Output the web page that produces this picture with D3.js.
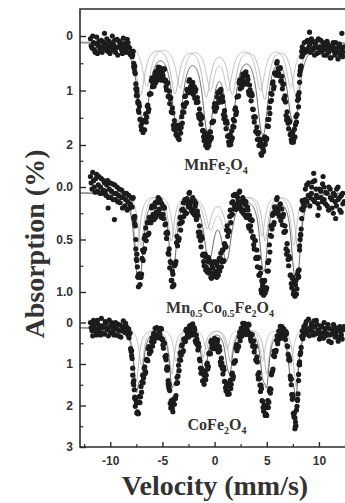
<!DOCTYPE html>
<html>
<head>
<meta charset="utf-8">
<script src="https://cdn.jsdelivr.net/npm/d3@7"></script>
<style>
  html, body { margin: 0; padding: 0; background: #fff; }
  svg { display: block; }
</style>
</head>
<body>
<div id="chart"></div>
<script>
// velocity axis
const velTicks = [-10, -5, 0, 5, 10];
const velMinor = [-12.5, -7.5, -2.5, 2.5, 7.5, 12.5];

// sample names (parts: [text, isSubscript])
const mnName = [["MnFe", false], ["2", true], ["O", false], ["4", true]];
const mcName = [["Mn", false], ["0.5", true], ["Co", false], ["0.5", true], ["Fe", false], ["2", true], ["O", false], ["4", true]];
const coName = [["CoFe", false], ["2", true], ["O", false], ["4", true]];

// y ticks of each panel
const mnTicks = [0, 1, 2], mnMinor = [0.5, 1.5];
const mcTicks = [0, 0.5, 1.0], mcMinor = [-0.25, 0.25, 0.75];
const coTicks = [0, 1, 2, 3], coMinor = [0.5, 1.5, 2.5];

// measured points [velocity, absorption %]
const mnPts = [
  [-11.9,0.05],[-11.75,0.22],[-11.6,0.12],[-11.45,0.3],[-11.3,0.02],[-11.15,0.18],[-11.0,0.25],[-10.85,0.08],[-10.7,0.2],[-10.55,-0.05],[-10.4,0.15],[-10.25,0.28],[-10.1,0.1],[-9.95,0.22],[-9.8,0.0],[-9.65,0.17],[-9.5,0.3],[-9.35,0.06],[-9.2,0.2],[-9.05,0.12],[-8.9,0.26],[-8.75,0.04],[-8.6,0.18],[-8.45,0.3],[-8.3,0.12],[-8.15,0.22],[-8.0,0.28],
  [-7.85,0.35],[-7.75,0.5],[-7.65,0.66],[-7.55,0.88],[-7.45,1.02],[-7.35,1.2],[-7.25,1.4],
  [-7.9,0.38],[-7.8,0.28],[-7.7,0.59],[-7.6,0.69],[-7.5,1.09],[-7.4,1.10],[-7.3,1.36],[-7.2,1.29],[-7.1,1.53],[-7.0,1.72],[-6.9,1.56],[-6.8,1.72],
  [-6.7,1.72],[-6.6,1.43],[-6.5,1.49],[-6.4,1.27],[-6.3,1.34],[-6.2,1.06],[-6.1,1.06],[-6.0,0.77],[-5.9,0.85],[-5.8,0.92],[-5.7,0.67],[-5.6,0.79],
  [-5.5,0.81],[-5.4,0.57],[-5.3,0.72],[-5.2,0.61],[-5.1,0.81],[-5.0,0.66],[-4.9,0.78],[-4.8,0.61],[-4.7,0.81],[-4.6,0.99],[-4.5,0.86],[-4.4,1.10],
  [-4.3,1.24],[-4.2,1.13],[-4.1,1.40],[-4.0,1.41],[-3.9,1.71],[-3.8,1.64],[-3.7,1.81],[-3.6,1.65],[-3.5,1.81],[-3.4,1.90],[-3.3,1.63],[-3.2,1.68],
  [-3.1,1.60],[-3.0,1.26],[-2.9,1.30],[-2.8,1.10],[-2.7,1.22],[-2.6,0.99],[-2.5,1.04],[-2.4,0.80],[-2.3,0.93],[-2.2,1.04],[-2.1,0.85],[-2.0,1.04],
  [-1.9,1.14],[-1.8,0.98],[-1.7,1.22],[-1.6,1.21],[-1.5,1.50],[-1.4,1.43],[-1.3,1.62],[-1.2,1.50],[-1.1,1.73],[-1.0,1.92],[-0.9,1.78],[-0.8,1.98],
  [-0.7,2.05],[-0.6,1.83],[-0.5,1.94],[-0.4,1.76],[-0.3,1.86],[-0.2,1.58],[-0.1,1.56],[0.0,1.24],[0.1,1.28],[0.2,1.31],[0.3,1.04],[0.4,1.15],
  [0.5,1.18],[0.6,0.98],[0.7,1.20],[0.8,1.20],[0.9,1.52],[1.0,1.48],[1.1,1.70],[1.2,1.60],[1.3,1.83],[1.4,2.00],[1.5,1.81],[1.6,1.92],
  [1.7,1.87],[1.8,1.53],[1.9,1.56],[2.0,1.32],[2.1,1.39],[2.2,1.11],[2.3,1.10],[2.4,0.81],[2.5,0.88],[2.6,0.94],[2.7,0.70],[2.8,0.83],
  [2.9,0.87],[3.0,0.66],[3.1,0.85],[3.2,0.80],[3.3,1.07],[3.4,0.99],[3.5,1.19],[3.6,1.09],[3.7,1.35],[3.8,1.58],[3.9,1.49],[4.0,1.76],
  [4.1,1.90],[4.2,1.77],[4.3,2.00],[4.4,1.96],[4.5,2.19],[4.6,2.04],[4.7,2.12],[4.8,1.85],[4.9,1.89],[5.0,1.88],[5.1,1.53],[5.2,1.53],
  [5.3,1.42],[5.4,1.05],[5.5,1.07],[5.6,0.84],[5.7,0.93],[5.8,0.68],[5.9,0.72],[6.0,0.47],[6.1,0.60],[6.2,0.73],[6.3,0.58],[6.4,0.82],
  [6.5,0.97],[6.6,0.88],[6.7,1.17],[6.8,1.21],[6.9,1.54],[7.0,1.50],[7.1,1.70],[7.2,1.58],[7.3,1.79],[7.4,1.95],[7.5,1.76],[7.6,1.89],
  [7.7,1.85],[7.8,1.48],[7.9,1.44],[8.0,1.09],[8.1,1.04],[8.2,0.64],[8.3,0.55],[8.4,0.20],[8.5,0.25],
  [8.05,1.3],[8.15,0.85],[8.25,0.55],[8.35,0.38],[8.45,0.3],
  [8.6,0.12],[8.75,0.25],[8.9,0.08],[9.05,0.2],[9.2,0.3],[9.35,0.1],[9.5,0.22],[9.65,0.15],[9.8,0.32],[9.95,0.05],[10.1,0.2],[10.25,0.28],[10.4,0.12],
  [10.55,0.25],[10.7,0.35],[10.85,0.15],[11.0,0.22],[11.15,0.4],[11.3,0.18],[11.45,0.28],[11.6,0.12],[11.75,0.3],[11.9,0.2],[12.05,0.35],[12.2,0.22],[12.35,0.3],
  [9.1,-0.07],[12.2,-0.05]
];
const mnPts2 = [
  [-11.83,0.18],[-11.68,0.0],[-11.53,0.25],[-11.38,0.14],[-11.23,0.32],[-11.08,0.1],[-10.93,0.2],[-10.78,0.3],[-10.63,0.12],[-10.48,0.24],[-10.33,0.05],[-10.18,0.2],[-10.03,0.32],
  [-9.88,0.14],[-9.73,0.26],[-9.58,0.08],[-9.43,0.22],[-9.28,0.35],[-9.13,0.1],[-8.98,0.2],[-8.83,0.32],[-8.68,0.14],[-8.53,0.25],[-8.38,0.06],[-8.23,0.2],[-8.08,0.34],
  [-7.85,0.29],[-7.75,0.56],[-7.65,0.55],[-7.55,0.97],[-7.45,0.97],[-7.35,1.23],[-7.25,1.23],[-7.15,1.53],[-7.05,1.65],[-6.95,1.59],[-6.85,1.77],[-6.75,1.56],
  [-6.65,1.54],[-6.55,1.58],[-6.45,1.29],[-6.35,1.39],[-6.25,1.07],[-6.15,1.06],[-6.05,0.82],[-5.95,0.93],[-5.85,0.91],[-5.75,0.74],[-5.65,0.86],[-5.55,0.64],
  [-5.45,0.65],[-5.35,0.77],[-5.25,0.58],[-5.15,0.79],[-5.05,0.61],[-4.95,0.72],[-4.85,0.60],[-4.75,0.83],[-4.65,0.93],[-4.55,0.87],[-4.45,1.11],[-4.35,1.01],
  [-4.25,1.15],[-4.15,1.39],[-4.05,1.32],[-3.95,1.64],[-3.85,1.55],[-3.75,1.73],[-3.65,1.64],[-3.55,1.85],[-3.45,1.88],[-3.35,1.71],[-3.25,1.78],[-3.15,1.48],
  [-3.05,1.39],[-2.95,1.40],[-2.85,1.11],[-2.75,1.24],[-2.65,0.98],[-2.55,1.02],[-2.45,0.83],[-2.35,0.99],[-2.25,1.01],[-2.15,0.89],[-2.05,1.07],[-1.95,0.93],
  [-1.85,1.02],[-1.75,1.22],[-1.65,1.13],[-1.55,1.44],[-1.45,1.34],[-1.35,1.53],[-1.25,1.47],[-1.15,1.74],[-1.05,1.85],[-0.95,1.80],[-0.85,2.01],[-0.75,1.86],
  [-0.65,1.90],[-0.55,2.01],[-0.45,1.76],[-0.35,1.89],[-0.25,1.59],[-0.15,1.57],[-0.05,1.31],[0.05,1.38],[0.15,1.32],[0.25,1.12],[0.35,1.22],[0.45,1.01],
  [0.55,1.04],[0.65,1.21],[0.75,1.11],[0.85,1.44],[0.95,1.37],[1.05,1.59],[1.15,1.56],[1.25,1.84],[1.35,1.94],[1.45,1.85],[1.55,1.99],[1.65,1.74],
  [1.75,1.66],[1.85,1.67],[1.95,1.35],[2.05,1.44],[2.15,1.12],[2.25,1.11],[2.35,0.86],[2.45,0.97],[2.55,0.94],[2.65,0.77],[2.75,0.89],[2.85,0.69],
  [2.95,0.73],[3.05,0.88],[3.15,0.74],[3.25,1.02],[3.35,0.90],[3.45,1.09],[3.55,1.05],[3.65,1.34],[3.75,1.49],[3.85,1.48],[3.95,1.75],[4.05,1.67],
  [4.15,1.80],[4.25,2.01],[4.35,1.89],[4.45,2.16],[4.55,1.99],[4.65,2.08],[4.75,1.89],[4.85,1.99],[4.95,1.91],[5.05,1.65],[5.15,1.66],[5.25,1.32],
  [5.35,1.20],[5.45,1.18],[5.55,0.87],[5.65,0.97],[5.75,0.68],[5.85,0.70],[5.95,0.50],[6.05,0.66],[6.15,0.69],[6.25,0.60],[6.35,0.83],[6.45,0.74],
  [6.55,0.89],[6.65,1.15],[6.75,1.10],[6.85,1.46],[6.95,1.39],[7.05,1.60],[7.15,1.55],[7.25,1.81],[7.35,1.90],[7.45,1.80],[7.55,1.95],[7.65,1.71],
  [7.75,1.63],[7.85,1.58],[7.95,1.18],[8.05,1.15],[8.15,0.71],[8.25,0.60],[8.35,0.28],[8.45,0.35],
  [8.68,0.3],[8.83,0.1],[8.98,0.28],[9.13,0.15],[9.28,0.05],[9.43,0.25],[9.58,0.35],[9.73,0.1],[9.88,0.22],[10.03,0.3],[10.18,0.08],[10.33,0.2],[10.48,0.35],
  [10.63,0.18],[10.78,0.1],[10.93,0.3],[11.08,0.4],[11.23,0.25],[11.38,0.12],[11.53,0.35],[11.68,0.22],[11.83,0.42],[11.98,0.15],[12.13,0.28],[12.28,0.38],[12.43,0.2]
];

const mcPts = [
  [-11.9,-0.1],[-11.75,0.02],[-11.6,-0.06],[-11.45,0.05],[-11.3,-0.12],[-11.15,-0.02],[-11.0,0.06],[-10.85,-0.08],[-10.7,0.03],[-10.55,-0.04],[-10.4,0.08],[-10.25,-0.06],[-10.1,0.02],
  [-9.95,0.1],[-9.8,-0.03],[-9.65,0.06],[-9.5,0.12],[-9.35,0.0],[-9.2,0.08],[-9.05,0.15],[-8.9,0.03],[-8.75,0.1],[-8.6,0.18],[-8.45,0.06],[-8.3,0.14],[-8.15,0.2],[-8.0,0.1],
  [-10.2,0.2],[-9.6,0.31],
  [-7.65,0.35],[-7.55,0.5],[-7.45,0.7],[-7.35,0.85],
  [-7.9,0.19],[-7.8,0.10],[-7.7,0.31],[-7.6,0.37],[-7.5,0.69],[-7.4,0.76],[-7.3,0.95],[-7.2,0.83],[-7.1,0.86],[-7.0,0.83],[-6.9,0.60],[-6.8,0.62],
  [-6.7,0.59],[-6.6,0.39],[-6.5,0.46],[-6.4,0.34],[-6.3,0.44],[-6.2,0.30],[-6.1,0.34],[-6.0,0.18],[-5.9,0.26],[-5.8,0.31],[-5.7,0.15],[-5.6,0.24],
  [-5.5,0.26],[-5.4,0.10],[-5.3,0.21],[-5.2,0.14],[-5.1,0.29],[-5.0,0.20],[-4.9,0.30],[-4.8,0.20],[-4.7,0.35],[-4.6,0.49],[-4.5,0.44],[-4.4,0.64],
  [-4.3,0.77],[-4.2,0.72],[-4.1,0.89],[-4.0,0.83],[-3.9,0.93],[-3.8,0.74],[-3.7,0.71],[-3.6,0.47],[-3.5,0.49],[-3.4,0.49],[-3.3,0.29],[-3.2,0.34],
  [-3.1,0.33],[-3.0,0.15],[-2.9,0.23],[-2.8,0.13],[-2.7,0.25],[-2.6,0.13],[-2.5,0.19],[-2.4,0.05],[-2.3,0.15],[-2.2,0.23],[-2.1,0.10],[-2.0,0.22],
  [-1.9,0.27],[-1.8,0.15],[-1.7,0.30],[-1.6,0.27],[-1.5,0.47],[-1.4,0.43],[-1.3,0.57],[-1.2,0.49],[-1.1,0.64],[-1.0,0.75],[-0.9,0.64],[-0.8,0.76],
  [-0.7,0.81],[-0.6,0.67],[-0.5,0.79],[-0.4,0.72],[-0.3,0.87],[-0.2,0.77],[-0.1,0.85],[0.0,0.71],[0.1,0.80],[0.2,0.86],[0.3,0.71],[0.4,0.79],
  [0.5,0.80],[0.6,0.63],[0.7,0.71],[0.8,0.60],[0.9,0.70],[1.0,0.55],[1.1,0.57],[1.2,0.37],[1.3,0.41],[1.4,0.42],[1.5,0.22],[1.6,0.27],
  [1.7,0.26],[1.8,0.08],[1.9,0.17],[2.0,0.08],[2.1,0.21],[2.2,0.10],[2.3,0.17],[2.4,0.04],[2.5,0.15],[2.6,0.23],[2.7,0.10],[2.8,0.22],
  [2.9,0.27],[3.0,0.14],[3.1,0.27],[3.2,0.22],[3.3,0.39],[3.4,0.31],[3.5,0.42],[3.6,0.32],[3.7,0.47],[3.8,0.59],[3.9,0.51],[4.0,0.67],
  [4.1,0.76],[4.2,0.67],[4.3,0.84],[4.4,0.82],[4.5,1.01],[4.6,0.94],[4.7,1.03],[4.8,0.89],[4.9,0.96],[5.0,0.96],[5.1,0.72],[5.2,0.70],
  [5.3,0.62],[5.4,0.37],[5.5,0.40],[5.6,0.25],[5.7,0.34],[5.8,0.20],[5.9,0.25],[6.0,0.10],[6.1,0.20],[6.2,0.28],[6.3,0.16],[6.4,0.29],
  [6.5,0.36],[6.6,0.26],[6.7,0.43],[6.8,0.42],[6.9,0.64],[7.0,0.61],[7.1,0.75],[7.2,0.68],[7.3,0.84],[7.4,0.96],[7.5,0.86],[7.6,0.99],
  [7.7,1.04],[7.8,0.89],[7.9,0.97],[8.0,0.80],[8.1,0.79],[8.2,0.50],[8.3,0.40],[8.4,0.13],[8.5,0.15],[8.6,0.18],
  [8.05,0.85],[8.15,0.6],[8.25,0.45],[8.35,0.3],[4.55,0.9],[-4.05,0.95],
  [8.7,0.02],[8.85,0.14],[9.0,-0.04],[9.15,0.1],[9.3,0.0],[9.45,0.12],[9.6,-0.06],[9.75,0.08],[9.9,0.16],[10.05,0.02],[10.2,0.1],[10.35,-0.03],[10.5,0.12],
  [10.65,0.05],[10.8,0.18],[10.95,0.0],[11.1,0.1],[11.25,0.2],[11.4,0.06],[11.55,0.14],[11.7,0.02],[11.85,0.12],[12.0,0.22],[12.15,0.08],[12.3,0.16],
  [9.5,-0.13],[9.9,0.27],[11.6,0.3],[10.4,-0.1]
];
const mcPts2 = [
  [-11.83,-0.04],[-11.68,-0.14],[-11.53,0.0],[-11.38,-0.08],[-11.23,0.04],[-11.08,-0.1],[-10.93,0.0],[-10.78,0.06],[-10.63,-0.06],[-10.48,0.04],[-10.33,-0.02],[-10.18,0.1],[-10.03,-0.04],
  [-9.88,0.04],[-9.73,0.12],[-9.58,-0.02],[-9.43,0.06],[-9.28,0.14],[-9.13,0.02],[-8.98,0.1],[-8.83,0.2],[-8.68,0.06],[-8.53,0.12],[-8.38,0.22],[-8.23,0.08],[-8.08,0.16],
  [-7.85,0.11],[-7.75,0.29],[-7.65,0.28],[-7.55,0.59],[-7.45,0.64],[-7.35,0.86],[-7.25,0.83],[-7.15,0.93],[-7.05,0.86],[-6.95,0.68],[-6.85,0.70],[-6.75,0.49],
  [-6.65,0.46],[-6.55,0.51],[-6.45,0.34],[-6.35,0.45],[-6.25,0.29],[-6.15,0.33],[-6.05,0.20],[-5.95,0.30],[-5.85,0.30],[-5.75,0.19],[-5.65,0.29],[-5.55,0.14],
  [-5.45,0.15],[-5.35,0.24],[-5.25,0.12],[-5.15,0.28],[-5.05,0.16],[-4.95,0.26],[-4.85,0.19],[-4.75,0.36],[-4.65,0.44],[-4.55,0.43],[-4.45,0.63],[-4.35,0.59],
  [-4.25,0.71],[-4.15,0.89],[-4.05,0.80],[-3.95,0.94],[-3.85,0.75],[-3.75,0.73],[-3.65,0.53],[-3.55,0.56],[-3.45,0.51],[-3.35,0.35],[-3.25,0.41],[-3.15,0.22],
  [-3.05,0.21],[-2.95,0.28],[-2.85,0.12],[-2.75,0.25],[-2.65,0.11],[-2.55,0.17],[-2.45,0.06],[-2.35,0.18],[-2.25,0.21],[-2.15,0.13],[-2.05,0.25],[-1.95,0.13],
  [-1.85,0.18],[-1.75,0.31],[-1.65,0.23],[-1.55,0.43],[-1.45,0.37],[-1.35,0.51],[-1.25,0.47],[-1.15,0.65],[-1.05,0.71],[-0.95,0.66],[-0.85,0.79],[-0.75,0.67],
  [-0.65,0.71],[-0.55,0.82],[-0.45,0.70],[-0.35,0.86],[-0.25,0.74],[-0.15,0.82],[-0.05,0.72],[0.05,0.84],[0.15,0.85],[0.25,0.75],[0.35,0.84],[0.45,0.68],
  [0.55,0.68],[0.65,0.76],[0.75,0.60],[0.85,0.71],[0.95,0.54],[1.05,0.57],[1.15,0.41],[1.25,0.47],[1.35,0.43],[1.45,0.28],[1.55,0.34],[1.65,0.15],
  [1.75,0.14],[1.85,0.21],[1.95,0.07],[2.05,0.21],[2.15,0.07],[2.25,0.14],[2.35,0.05],[2.45,0.18],[2.55,0.21],[2.65,0.13],[2.75,0.25],[2.85,0.13],
  [2.95,0.17],[3.05,0.29],[3.15,0.19],[3.25,0.37],[3.35,0.27],[3.45,0.37],[3.55,0.31],[3.65,0.48],[3.75,0.55],[3.85,0.51],[3.95,0.68],[4.05,0.60],
  [4.15,0.68],[4.25,0.84],[4.35,0.77],[4.45,0.98],[4.55,0.89],[4.65,0.99],[4.75,0.90],[4.85,1.01],[4.95,0.98],[5.05,0.80],[5.15,0.80],[5.25,0.55],
  [5.35,0.46],[5.45,0.47],[5.55,0.27],[5.65,0.36],[5.75,0.19],[5.85,0.23],[5.95,0.12],[6.05,0.23],[6.15,0.26],[6.25,0.18],[6.35,0.32],[6.45,0.21],
  [6.55,0.28],[6.65,0.43],[6.75,0.37],[6.85,0.59],[6.95,0.54],[7.05,0.69],[7.15,0.66],[7.25,0.84],[7.35,0.92],[7.45,0.87],[7.55,1.02],[7.65,0.90],
  [7.75,0.93],[7.85,1.02],[7.95,0.83],[8.05,0.86],[8.15,0.56],[8.25,0.46],[8.35,0.21],[8.45,0.22],[8.55,0.18],
  [8.68,0.12],[8.83,-0.02],[8.98,0.08],[9.13,0.18],[9.28,0.06],[9.43,-0.05],[9.58,0.14],[9.73,0.02],[9.88,0.1],[10.03,0.2],[10.18,0.04],[10.33,0.14],[10.48,0.0],
  [10.63,0.16],[10.78,0.06],[10.93,0.22],[11.08,0.02],[11.23,0.12],[11.38,0.25],[11.53,0.08],[11.68,0.18],[11.83,0.0],[11.98,0.1],[12.13,0.24],[12.28,0.06],[12.43,0.14]
];

const coPts = [
  [-11.9,0.0],[-11.75,0.2],[-11.6,-0.05],[-11.45,0.15],[-11.3,0.3],[-11.15,0.05],[-11.0,0.22],[-10.85,-0.1],[-10.7,0.12],[-10.55,0.28],[-10.4,0.02],[-10.25,0.18],[-10.1,-0.06],
  [-9.95,0.25],[-9.8,0.08],[-9.65,0.3],[-9.5,0.0],[-9.35,0.16],[-9.2,0.32],[-9.05,0.06],[-8.9,0.2],[-8.75,-0.04],[-8.6,0.24],[-8.45,0.1],[-8.3,0.3],
  [-8.2,0.37],[-8.1,0.25],[-8.0,0.70],[-7.9,0.87],[-7.8,1.46],[-7.7,1.62],[-7.6,2.02],[-7.5,1.94],[-7.4,2.15],[-7.3,2.19],[-7.2,1.78],[-7.1,1.79],
  [-7.0,1.68],[-6.9,1.27],[-6.8,1.33],[-6.7,1.07],[-6.6,1.19],[-6.5,0.89],[-6.4,0.92],[-6.3,0.58],[-6.2,0.65],[-6.1,0.69],[-6.0,0.37],[-5.9,0.47],
  [-5.8,0.46],[-5.7,0.14],[-5.6,0.30],[-5.5,0.14],[-5.4,0.37],[-5.3,0.19],[-5.2,0.35],[-5.1,0.16],[-5.0,0.40],[-4.9,0.62],[-4.8,0.50],[-4.7,0.85],
  [-4.6,1.12],[-4.5,1.10],[-4.4,1.55],[-4.3,1.64],[-4.2,2.06],[-4.1,1.98],[-4.0,2.15],[-3.9,1.84],[-3.8,1.84],[-3.7,1.76],[-3.6,1.32],[-3.5,1.29],
  [-3.4,1.16],[-3.3,0.73],[-3.2,0.79],[-3.1,0.54],[-3.0,0.68],[-2.9,0.40],[-2.8,0.46],[-2.7,0.16],[-2.6,0.27],[-2.5,0.35],[-2.4,0.08],[-2.3,0.24],
  [-2.2,0.29],[-2.1,0.03],[-2.0,0.26],[-1.9,0.18],[-1.8,0.49],[-1.7,0.40],[-1.6,0.66],[-1.5,0.58],[-1.4,0.92],[-1.3,1.22],[-1.2,1.13],[-1.1,1.40],
  [-1.0,1.49],[-0.9,1.18],[-0.8,1.27],[-0.7,0.98],[-0.6,1.06],[-0.5,0.73],[-0.4,0.75],[-0.3,0.43],[-0.2,0.54],[-0.1,0.63],[0.0,0.38],[0.1,0.56],
  [0.2,0.64],[0.3,0.42],[0.4,0.70],[0.5,0.67],[0.6,1.03],[0.7,0.97],[0.8,1.24],[0.9,1.14],[1.0,1.43],[1.1,1.65],[1.2,1.48],[1.3,1.68],
  [1.4,1.72],[1.5,1.39],[1.6,1.49],[1.7,1.22],[1.8,1.30],[1.9,0.95],[2.0,0.92],[2.1,0.53],[2.2,0.56],[2.3,0.57],[2.4,0.24],[2.5,0.34],
  [2.6,0.33],[2.7,0.02],[2.8,0.19],[2.9,0.05],[3.0,0.29],[3.1,0.11],[3.2,0.26],[3.3,0.06],[3.4,0.27],[3.5,0.45],[3.6,0.29],[3.7,0.55],
  [3.8,0.71],[3.9,0.57],[4.0,0.92],[4.1,0.95],[4.2,1.36],[4.3,1.35],[4.4,1.66],[4.5,1.59],[4.6,1.90],[4.7,2.14],[4.8,1.99],[4.9,2.20],
  [5.0,2.24],[5.1,1.88],[5.2,1.92],[5.3,1.59],[5.4,1.61],[5.5,1.20],[5.6,1.12],[5.7,0.69],[5.8,0.69],[5.9,0.67],[6.0,0.32],[6.1,0.41],
  [6.2,0.40],[6.3,0.09],[6.4,0.27],[6.5,0.13],[6.6,0.38],[6.7,0.22],[6.8,0.41],[6.9,0.27],[7.0,0.58],[7.1,0.90],[7.2,0.91],[7.3,1.37],
  [7.4,1.74],[7.5,1.80],[7.6,2.27],[7.7,2.30],[7.8,2.49],[7.9,2.02],[8.0,1.72],[8.1,1.01],[8.2,0.77],[8.3,0.60],[8.4,0.20],[8.5,0.29],[8.6,0.30],
  [-7.95,0.8],[-7.85,1.1],[-7.75,1.5],[-7.65,1.8],[7.45,1.85],[7.35,1.5],[7.95,1.85],[8.05,1.4],[8.15,0.95],
  [-4.65,0.9],[-4.55,1.15],[-4.45,1.4],[-4.35,1.6],[4.95,2.05],[7.75,2.4],[7.7,2.56],
  [8.7,0.05],[8.85,0.25],[9.0,-0.08],[9.15,0.18],[9.3,0.02],[9.45,0.3],[9.6,0.1],[9.75,-0.05],[9.9,0.2],[10.05,0.4],[10.2,0.08],[10.35,0.25],[10.5,0.0],
  [10.65,0.32],[10.8,0.12],[10.95,0.45],[11.1,0.15],[11.25,0.28],[11.4,0.05],[11.55,0.35],[11.7,0.2],[11.85,0.45],[12.0,0.1],[12.15,0.3],[12.3,0.18]
];
const coPts2 = [
  [-11.83,0.12],[-11.68,0.32],[-11.53,0.05],[-11.38,0.22],[-11.23,-0.05],[-11.08,0.15],[-10.93,0.3],[-10.78,0.08],[-10.63,0.25],[-10.48,-0.02],[-10.33,0.14],[-10.18,0.32],[-10.03,0.1],
  [-9.88,0.0],[-9.73,0.2],[-9.58,0.12],[-9.43,0.3],[-9.28,0.04],[-9.13,0.2],[-8.98,0.35],[-8.83,0.1],[-8.68,0.18],[-8.53,0.02],[-8.38,0.26],[-8.23,0.15],
  [-8.15,0.27],[-8.05,0.63],[-7.95,0.68],[-7.85,1.27],[-7.75,1.40],[-7.65,1.83],[-7.55,1.86],[-7.45,2.18],[-7.35,2.20],[-7.25,1.92],[-7.15,1.93],[-7.05,1.54],
  [-6.95,1.43],[-6.85,1.45],[-6.75,1.10],[-6.65,1.23],[-6.55,0.90],[-6.45,0.91],[-6.35,0.63],[-6.25,0.75],[-6.15,0.70],[-6.05,0.46],[-5.95,0.57],[-5.85,0.27],
  [-5.75,0.26],[-5.65,0.37],[-5.55,0.12],[-5.45,0.36],[-5.35,0.14],[-5.25,0.28],[-5.15,0.14],[-5.05,0.41],[-4.95,0.54],[-4.85,0.49],[-4.75,0.82],[-4.65,0.79],
  [-4.55,1.07],[-4.45,1.48],[-4.35,1.49],[-4.25,1.95],[-4.15,1.88],[-4.05,2.07],[-3.95,1.88],[-3.85,1.97],[-3.75,1.83],[-3.65,1.47],[-3.55,1.45],[-3.45,1.03],
  [-3.35,0.90],[-3.25,0.91],[-3.15,0.56],[-3.05,0.71],[-2.95,0.40],[-2.85,0.44],[-2.75,0.19],[-2.65,0.35],[-2.55,0.34],[-2.45,0.15],[-2.35,0.31],[-2.25,0.07],
  [-2.15,0.12],[-2.05,0.30],[-1.95,0.12],[-1.85,0.44],[-1.75,0.30],[-1.65,0.54],[-1.55,0.50],[-1.45,0.88],[-1.35,1.10],[-1.25,1.11],[-1.15,1.41],[-1.05,1.25],
  [-0.95,1.29],[-0.85,1.38],[-0.75,1.02],[-0.65,1.12],[-0.55,0.75],[-0.45,0.75],[-0.35,0.47],[-0.25,0.62],[-0.15,0.62],[-0.05,0.44],[0.05,0.62],[0.15,0.41],
  [0.25,0.49],[0.35,0.71],[0.45,0.58],[0.55,0.95],[0.65,0.86],[0.75,1.11],[0.85,1.07],[0.95,1.42],[1.05,1.57],[1.15,1.50],[1.25,1.73],[1.35,1.51],
  [1.45,1.51],[1.55,1.59],[1.65,1.25],[1.75,1.36],[1.85,0.98],[1.95,0.94],[2.05,0.61],[2.15,0.68],[2.25,0.60],[2.35,0.34],[2.45,0.44],[2.55,0.14],
  [2.65,0.13],[2.75,0.26],[2.85,0.02],[2.95,0.27],[3.05,0.06],[3.15,0.19],[3.25,0.04],[3.35,0.30],[3.45,0.39],[3.55,0.30],[3.65,0.57],[3.75,0.44],
  [3.85,0.60],[3.95,0.90],[4.05,0.83],[4.15,1.26],[4.25,1.21],[4.35,1.51],[4.45,1.51],[4.55,1.88],[4.65,2.05],[4.75,2.00],[4.85,2.24],[4.95,2.03],
  [5.05,2.02],[5.15,2.05],[5.25,1.65],[5.35,1.70],[5.45,1.26],[5.55,1.17],[5.65,0.79],[5.75,0.82],[5.85,0.71],[5.95,0.43],[6.05,0.51],[6.15,0.21],
  [6.25,0.20],[6.35,0.33],[6.45,0.10],[6.55,0.36],[6.65,0.16],[6.75,0.32],[6.85,0.22],[6.95,0.56],[7.05,0.77],[7.15,0.84],[7.25,1.29],[7.35,1.36],
  [7.45,1.73],[7.55,2.19],[7.65,2.18],[7.75,2.50],[7.85,2.11],[7.95,1.88],[8.05,1.25],[8.15,1.02],[8.25,0.72],[8.35,0.33],[8.45,0.39],[8.55,0.10],
  [8.63,0.2],[8.78,-0.02],[8.93,0.15],[9.08,0.32],[9.23,0.1],[9.38,0.22],[9.53,-0.04],[9.68,0.28],[9.83,0.05],[9.98,0.18],[10.13,0.3],[10.28,0.1],[10.43,0.38],
  [10.58,0.15],[10.73,0.25],[10.88,0.05],[11.03,0.3],[11.18,0.48],[11.33,0.2],[11.48,0.1],[11.63,0.3],[11.78,0.15],[11.93,0.35],[12.08,0.22],[12.23,0.4],[12.38,0.1]
];

// fitted sub-spectra: line positions (mm/s), depths (%), widths (mm/s)
const mnBase = 0.1;
const mnSiteA = { pos: [-7.1, -3.8, -0.8, 1.7, 4.8, 7.8], depth: [0.95, 0.9, 0.95, 0.9, 1.0, 0.95], w: [1.0, 1.0, 1.0, 1.0, 1.0, 1.0] };
const mnSiteB = { pos: [-6.5, -3.3, -0.4, 1.3, 4.4, 7.3], depth: [0.8, 0.8, 0.8, 0.8, 0.85, 0.8], w: [1.0, 1.0, 1.0, 1.0, 1.0, 1.0] };
const mcBase = 0.05;
const mcSiteA = { pos: [-7.45, -4.15, -0.7, 1.3, 4.85, 8.0], depth: [0.55, 0.45, 0.32, 0.32, 0.45, 0.55], w: [0.7, 0.7, 1.0, 1.0, 0.7, 0.7] };
const mcSiteB = { pos: [-7.05, -3.85, -0.4, 1.0, 4.55, 7.6], depth: [0.5, 0.4, 0.32, 0.32, 0.4, 0.5], w: [0.7, 0.7, 1.0, 1.0, 0.7, 0.7] };
const coBase = 0.12;
const coSiteA = { pos: [-7.5, -4.1, -1.1, 1.5, 5.0, 7.8], depth: [1.3, 1.1, 0.7, 0.8, 1.1, 1.4], w: [0.6, 0.6, 0.6, 0.6, 0.6, 0.6] };
const coSiteB = { pos: [-7.0, -3.7, -0.8, 1.2, 4.6, 7.3], depth: [0.9, 0.8, 0.5, 0.5, 0.8, 0.9], w: [0.6, 0.6, 0.6, 0.6, 0.6, 0.6] };

const W = 345, H = 503;
const frameLeft = 80, frameTop = 9, frameBottom = 447;
const ink = "#2b2b2b";
const sansFont = "'Liberation Sans', Arial, sans-serif";
const serifFont = "'Liberation Serif', 'Times New Roman', serif";

const svg = d3.select("#chart").append("svg")
  .attr("width", W).attr("height", H);

const x = d3.scaleLinear().domain([-12.9, 12.5]).range([frameLeft, 345]);

const panels = [
  { pts: mnPts.concat(mnPts2), y: d3.scaleLinear().domain([0, 2]).range([36, 145]), base: mnBase, sites: [mnSiteA, mnSiteB],
    ticks: mnTicks, minor: mnMinor, fmt: d => String(d), name: mnName, nx: 216, ny: 170 },
  { pts: mcPts.concat(mcPts2), y: d3.scaleLinear().domain([0, 1]).range([187, 292]), base: mcBase, sites: [mcSiteA, mcSiteB],
    ticks: mcTicks, minor: mcMinor, fmt: d3.format(".1f"), name: mcName, nx: 220, ny: 313 },
  { pts: coPts.concat(coPts2), y: d3.scaleLinear().domain([0, 3]).range([322.5, 447]), base: coBase, sites: [coSiteA, coSiteB],
    ticks: coTicks, minor: coMinor, fmt: d => String(d), name: coName, nx: 217, ny: 430 }
];

function lorentz(v, s) {
  return d3.sum(s.pos, (p, i) => {
    const g = (s.w[i] / 2) * (s.w[i] / 2);
    return s.depth[i] * g / ((v - p) * (v - p) + g);
  });
}

const grid = d3.range(-12.9, 12.5, 0.025);

panels.forEach(p => {
  const line = d3.line().x(d => x(d[0])).y(d => p.y(d[1]));
  const g = svg.append("g");

  // sub-spectra (thin grey)
  p.sites.forEach((s, i) => {
    g.append("path")
      .datum(grid.map(v => [v, p.base + lorentz(v, s)]))
      .attr("d", line)
      .attr("fill", "none")
      .attr("stroke", i === 1 ? "#b4b4b4" : "#a6a6a6")
      .attr("stroke-width", 0.8);
  });

  // total fit
  g.append("path")
    .datum(grid.map(v => [v, p.base + d3.sum(p.sites, s => lorentz(v, s))]))
    .attr("d", line)
    .attr("fill", "none")
    .attr("stroke", "#555")
    .attr("stroke-width", 0.9);

  // measured points
  g.selectAll("circle")
    .data(p.pts)
    .join("circle")
    .attr("cx", d => x(d[0]))
    .attr("cy", d => p.y(d[1]))
    .attr("r", 2.6)
    .attr("fill", "#1c1c1c");

  // y axis ticks, pointing inward
  const ax = svg.append("g").attr("transform", `translate(${frameLeft},0)`)
    .call(d3.axisLeft(p.y).tickValues(p.ticks).tickFormat(p.fmt).tickSize(-6).tickPadding(7).tickSizeOuter(0));
  ax.select(".domain").remove();
  ax.selectAll("line").attr("stroke", ink).attr("stroke-width", 1.4);
  ax.selectAll("text").attr("font-family", sansFont)
    .attr("font-weight", "bold").attr("font-size", 12).attr("fill", "#333");

  const mi = svg.append("g").attr("transform", `translate(${frameLeft},0)`)
    .call(d3.axisLeft(p.y).tickValues(p.minor).tickFormat("").tickSize(-3.5).tickSizeOuter(0));
  mi.select(".domain").remove();
  mi.selectAll("text").remove();
  mi.selectAll("line").attr("stroke", ink).attr("stroke-width", 1.2);

  // sample label
  const t = svg.append("text")
    .attr("x", p.nx).attr("y", p.ny)
    .attr("text-anchor", "middle")
    .attr("font-family", serifFont)
    .attr("font-weight", "bold")
    .attr("font-size", 16)
    .attr("fill", "#333");
  let prevSub = false;
  p.name.forEach(([txt, sub]) => {
    const dy = sub && !prevSub ? 4 : (!sub && prevSub ? -4 : 0);
    t.append("tspan").attr("dy", dy).attr("font-size", sub ? 10 : 16).text(txt);
    prevSub = sub;
  });
});

// frame
svg.append("path")
  .attr("d", `M${W + 2},${frameTop}H${frameLeft}V${frameBottom}H${W + 2}`)
  .attr("fill", "none")
  .attr("stroke", ink)
  .attr("stroke-width", 1.6);

// x axis ticks, pointing inward
const xa = svg.append("g").attr("transform", `translate(0,${frameBottom})`)
  .call(d3.axisBottom(x).tickValues(velTicks).tickFormat(d => String(d)).tickSize(-5).tickPadding(9).tickSizeOuter(0));
xa.select(".domain").remove();
xa.selectAll("line").attr("stroke", ink).attr("stroke-width", 1.4);
xa.selectAll("text").attr("font-family", sansFont)
  .attr("font-weight", "bold").attr("font-size", 12).attr("fill", "#333");

const xm = svg.append("g").attr("transform", `translate(0,${frameBottom})`)
  .call(d3.axisBottom(x).tickValues(velMinor).tickFormat("").tickSize(-3).tickSizeOuter(0));
xm.select(".domain").remove();
xm.selectAll("text").remove();
xm.selectAll("line").attr("stroke", ink).attr("stroke-width", 1.2);

// axis titles
svg.append("text")
  .attr("x", 215).attr("y", 495)
  .attr("text-anchor", "middle")
  .attr("font-family", serifFont)
  .attr("font-weight", "bold").attr("font-size", 28).attr("fill", "#333")
  .text("Velocity (mm/s)");

svg.append("text")
  .attr("transform", "translate(44,244) rotate(-90)")
  .attr("text-anchor", "middle")
  .attr("font-family", serifFont)
  .attr("font-weight", "bold").attr("font-size", 28).attr("fill", "#333")
  .text("Absorption (%)");
</script>
</body>
</html>
